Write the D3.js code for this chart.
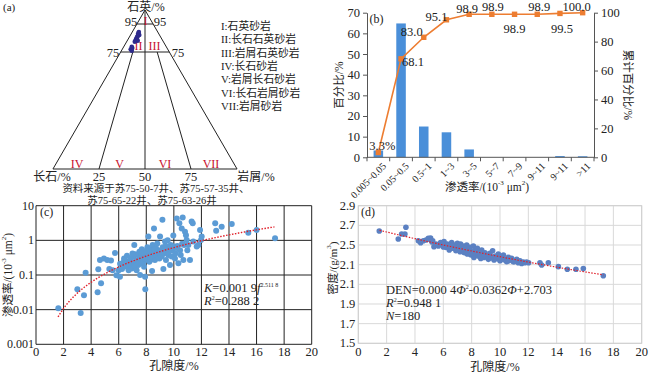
<!DOCTYPE html>
<html><head><meta charset="utf-8">
<script src="https://cdn.jsdelivr.net/npm/d3@7"></script>
<style>
body{margin:0;background:#fff}
svg text{font-family:"Liberation Serif","Times New Roman","Noto Sans CJK SC",serif;fill:#222}
</style></head><body>
<svg id="fig" width="650" height="376"></svg>
<script>
// ================= DATA =================
// (a) ternary sample compositions (%)
const quartz   = [88.4, 89.2, 87.1, 86.5, 85.9, 84.8, 84.1, 83.1, 82.4, 78.8, 77.8, 76.9, 75.9];
const feldspar = [ 8.7,  8.0,  9.0, 10.0, 10.6, 11.5, 12.2, 11.9, 13.7, 17.2, 17.5, 18.8, 18.8];
const rockFrag = [ 2.9,  2.8,  3.9,  3.5,  3.5,  3.7,  3.7,  5.0,  3.9,  4.0,  4.7,  4.3,  5.3];
const classLegend = ["I:石英砂岩","II:长石石英砂岩","III:岩屑石英砂岩","IV:长石砂岩","V:岩屑长石砂岩","VI:长石岩屑砂岩","VII:岩屑砂岩"];
const regionNames = ["I","II","III","IV","V","VI","VII"];
const sourceNote = ["资料来源于苏75-50-7井、苏75-57-35井、","苏75-65-22井、苏75-63-26井"];

// (b) permeability distribution
const permCats = ["0.005~0.05","0.05~0.5","0.5~1","1~3","3~5","5~7","7~9","9~11","9~11",">11"];
const permPct  = [3.3, 64.8, 14.9, 12.1, 3.8, 0, 0, 0, 0.6, 0.5];
const permCum  = [3.3, 68.1, 83.0, 95.1, 98.9, 98.9, 98.9, 98.9, 99.5, 100.0];
const cumLabels = ["3.3%","68.1","83.0","95.1","98.9","98.9","98.9","98.9","99.5","100.0"];
const pctTicks = [0,10,20,30,40,50,60,70];
const cumTicks = [0,20,40,60,80,100];

// (c) porosity vs permeability
const phiC = [1.62,3.0,3.24,3.48,3.6,4.47,4.52,4.72,4.64,4.93,5.17,5.44,5.32,5.56,5.73,5.83,6.09,6.0,6.24,6.29,
  6.46,6.39,6.58,6.7,6.72,6.82,6.87,6.94,7.06,7.11,7.13,7.18,7.3,7.35,7.42,7.42,7.5,7.55,7.55,7.62,
  7.67,7.74,7.79,7.84,7.84,7.91,7.93,7.98,8.03,8.08,8.15,8.15,8.22,8.27,8.32,8.39,8.42,8.46,8.51,8.56,
  8.59,8.63,8.71,8.75,8.8,8.88,8.95,9.0,9.04,9.12,9.17,9.19,9.24,9.29,9.36,9.41,9.43,9.48,9.55,9.6,
  9.67,9.72,9.77,9.84,9.92,9.96,10.01,10.08,10.13,10.21,10.25,10.33,10.4,10.45,10.5,10.57,10.64,10.69,10.74,10.81,
  10.88,10.93,10.98,11.05,11.17,11.29,11.37,11.41,11.66,11.78,11.9,11.97,12.02,13.0,13.07,13.47,14.2,15.4,16.0,17.34,
  6.1,6.6,6.9,7.2,7.7,8.0,8.3,8.6,8.9,9.3,9.8,10.2,10.6,7.0,7.9,8.7,9.6,6.4];
const kC = [0.011,0.039,0.008,0.026,0.117,0.032,0.146,0.058,0.27,0.30,0.27,0.26,0.148,0.138,0.43,0.098,0.089,0.138,0.15,0.22,
  0.195,0.30,0.174,0.24,0.138,0.27,0.20,0.155,0.34,0.23,0.74,0.174,0.138,0.27,0.38,0.195,0.47,0.30,0.10,0.22,
  0.55,0.34,0.24,0.42,0.174,0.089,0.039,0.28,0.47,0.63,0.34,1.29,0.24,0.42,0.55,0.28,0.13,0.74,0.35,2.2,
  0.47,0.27,0.59,0.38,0.81,0.44,0.30,1.29,0.52,0.34,3.9,0.63,0.15,0.42,0.93,0.69,0.27,0.47,1.0,0.38,
  0.55,0.195,0.74,0.34,0.50,1.38,0.66,0.30,0.42,4.3,0.69,0.22,3.1,0.52,0.38,2.2,4.6,0.27,0.74,1.78,
  1.41,1.02,0.52,0.74,0.27,3.5,3.1,0.93,0.66,0.74,2.0,1.02,1.29,3.1,1.9,2.45,2.95,1.66,2.0,1.15,
  0.21,0.36,0.31,0.40,0.45,0.50,0.33,0.56,0.48,0.57,0.62,0.60,0.80,0.42,0.29,0.44,0.46,0.26];
const permAxisTicks = [0.001,0.01,0.1,1,10];
const permAxisLabels = ["0.001","0.01","0.1","1","10"];
const phiTicks = [0,2,4,6,8,10,12,14,16,18,20];

// (d) porosity vs density
const phiD = [1.48,2.82,3.06,3.29,3.36,4.24,4.4,4.59,4.78,4.94,5.1,5.25,5.34,5.48,5.65,5.81,5.95,6.05,6.19,6.28,
  6.42,6.52,6.59,6.71,6.82,6.89,6.99,7.06,7.18,7.22,7.32,7.41,7.48,7.55,7.65,7.69,7.79,7.88,7.95,8.02,
  8.12,8.16,8.24,8.31,8.4,8.47,8.54,8.64,8.71,8.78,8.87,8.94,9.06,9.18,9.29,9.41,9.48,9.58,9.65,9.76,
  9.88,10.0,10.12,10.24,10.35,10.47,10.59,10.71,10.82,10.94,11.06,11.18,11.29,11.41,11.53,11.65,11.76,11.88,12.02,12.82,
  12.94,13.41,14.12,14.75,15.36,15.88,17.29,
  5.0,5.2,6.3,6.7,7.0,7.6,7.9,8.3,8.6,9.0,9.4,9.9,10.3,10.6,11.0,6.0,7.3,8.1,8.9,9.7];
const denD = [2.642,2.561,2.612,2.612,2.68,2.544,2.524,2.544,2.551,2.568,2.571,2.544,2.483,2.51,2.49,2.524,2.5,2.534,2.476,2.51,
  2.449,2.49,2.524,2.466,2.5,2.442,2.517,2.476,2.432,2.51,2.456,2.49,2.422,2.466,2.5,2.408,2.449,2.476,2.398,2.432,
  2.49,2.374,2.449,2.415,2.466,2.388,2.432,2.364,2.449,2.408,2.374,2.422,2.388,2.354,2.415,2.374,2.442,2.347,2.388,2.364,
  2.408,2.34,2.374,2.398,2.354,2.33,2.374,2.347,2.364,2.33,2.34,2.354,2.32,2.34,2.313,2.327,2.32,2.327,2.32,2.32,
  2.296,2.32,2.28,2.253,2.253,2.26,2.188,
  2.56,2.53,2.50,2.47,2.46,2.44,2.43,2.42,2.40,2.39,2.37,2.36,2.35,2.34,2.33,2.48,2.45,2.41,2.40,2.37];
const denTicks = [1.5,1.7,1.9,2.1,2.3,2.5,2.7,2.9];
const denTickLabels = ["1.5","1.7","1.9","2.1","2.1","2.5","2.7","2.9"];

// fitted equations shown on the figure
const fitC = {a:0.0019, b:2.5118, from:1.6, to:17.3};
const fitD = {a:0.0004, b:-0.0362, c:2.703, from:1.5, to:17.3};

// ================= DRAW =================
const svg = d3.select("#fig");
const red = "#c8102e";

// ---------- (a) ternary ----------
(function(){
  const g = svg.append("g");
  const cx = 145, apexY = 10, k = 0.579;
  const qScale = d3.scaleLinear().domain([0,75,95,100]).range([169,52,24,apexY]);
  const pos = (q,f,r) => {
    const y = qScale(q);
    const ratio = (f + r) === 0 ? 0.5 : r/(f+r);
    return [cx + (y - apexY)*k*(2*ratio - 1), y];
  };
  const line = d3.line();
  const st = s => s.attr("fill","none").attr("stroke","#222").attr("stroke-width",1);
  g.append("path").attr("d", line([pos(100,0,0), pos(0,100,0), pos(0,0,100)]) + "Z").call(st);
  [95,75].forEach(q => g.append("path").attr("d", line([pos(q,100-q,0), pos(q,0,100-q)])).call(st));
  g.append("path").attr("d", line([pos(100,0,0), pos(0,50,50)])).call(st);
  [0.25,0.75].forEach(r => g.append("path").attr("d", line([pos(75,25*(1-r),25*r), pos(0,100*(1-r),100*r)])).call(st));

  const t = (x,y,s,opt={}) => g.append("text").attr("x",x).attr("y",y).attr("text-anchor",opt.anchor||"middle")
      .attr("dominant-baseline","central").style("font-size",(opt.size||11)+"px").style("fill",opt.fill||"#222").text(s);
  t(146,6.5,"石英/%",{size:12});
  t(131,22,"95",{size:12.5}); t(160,22,"95",{size:12.5});
  t(113,52.5,"75",{size:12.5}); t(178,52.5,"75",{size:12.5});
  const regPos = [[145.5,21],[138.5,46],[154.5,46],[77,164],[119.5,164],[165,164],[211,164]];
  regionNames.forEach((n,i)=> t(regPos[i][0],regPos[i][1],n,{fill:red,size:12}));
  t(52,176.5,"长石/%",{size:12});
  [25,50,75].forEach(v => t(pos(0,100-v,v)[0],176.5,String(v),{size:12.5}));
  t(256,176.5,"岩屑/%",{size:12});
  classLegend.forEach((s,i)=> t(221,26+i*13.33,s,{anchor:"start",size:10.8}));
  t(156,188.5,sourceNote[0],{size:10.5});
  t(152,200,sourceNote[1],{size:10.5});
  t(3,7,"(a)",{anchor:"start",size:11});
  g.selectAll("circle.s").data(quartz.map((q,i)=>pos(q,feldspar[i],rockFrag[i]))).join("circle")
    .attr("cx",d=>d[0]).attr("cy",d=>d[1]).attr("r",2.3).attr("fill","#2e2a8c");
})();

// ---------- (b) bar + cumulative ----------
(function(){
  const g = svg.append("g");
  const x0 = 367, x1 = 594, yTop = 12.7, yBot = 157.3;
  const x = d3.scaleBand().domain(d3.range(permCats.length)).range([x0,x1]).paddingInner(0.58).paddingOuter(0.29);
  const yL = d3.scaleLinear().domain([0,70]).range([yBot,yTop]);
  const yR = d3.scaleLinear().domain([0,100]).range([yBot,yTop]);
  g.selectAll("rect").data(permPct).join("rect")
    .attr("x",(d,i)=>x(i)).attr("width",x.bandwidth())
    .attr("y",d=>yL(d)).attr("height",d=>yBot-yL(d)).attr("fill","#4a8fd9");
  const axL = g.append("g").attr("transform",`translate(${x0},0)`).call(d3.axisLeft(yL).tickValues(pctTicks).tickSize(4).tickSizeOuter(0));
  const axR = g.append("g").attr("transform",`translate(${x1},0)`).call(d3.axisRight(yR).tickValues(cumTicks).tickSize(4).tickSizeOuter(0));
  [axL,axR].forEach(a=>{a.selectAll("path,line").attr("stroke","#555");a.selectAll("text").style("font-size","12.5px").style("font-family",'"Liberation Serif",serif').attr("fill","#222");});
  g.append("line").attr("x1",x0).attr("x2",x1).attr("y1",yBot).attr("y2",yBot).attr("stroke","#555");
  d3.range(permCats.length+1).forEach(i=>{
    const xx = x0 + i*x.step();
    g.append("line").attr("x1",xx).attr("x2",xx).attr("y1",yBot).attr("y2",yBot+4).attr("stroke","#555");
  });
  permCats.forEach((c,i)=>{
    const cxp = x(i)+x.bandwidth()/2 + 6;
    g.append("text").attr("transform",`translate(${cxp},${yBot+7}) rotate(-45)`).attr("text-anchor","end")
      .attr("dominant-baseline","central").style("font-size","10px").text(c);
  });
  const pts = permCum.map((v,i)=>[x(i)+x.bandwidth()/2, yR(v)]);
  g.append("path").attr("d",d3.line()(pts)).attr("fill","none").attr("stroke","#ed7d31").attr("stroke-width",1.6);
  g.selectAll("rect.m").data(pts).join("rect").attr("class","m")
    .attr("x",d=>d[0]-2.7).attr("y",d=>d[1]-2.7).attr("width",5.4).attr("height",5.4).attr("fill","#ed7d31");
  const offs = [[4,-7],[12,3],[-12,-5],[-10,-3],[-2,-5],[1,-7],[0,15],[2,-7.5],[2,16],[-6,-6]];
  pts.forEach((p,i)=> g.append("text").attr("x",p[0]+offs[i][0]).attr("y",p[1]+offs[i][1])
    .attr("text-anchor","middle").attr("dominant-baseline","central").style("font-size","12.5px").text(cumLabels[i]));
  g.append("text").attr("x",376.5).attr("y",18.5).attr("text-anchor","middle").attr("dominant-baseline","central").style("font-size","12px").text("(b)");
  g.append("text").attr("transform","translate(339,85) rotate(-90)").attr("text-anchor","middle").attr("dominant-baseline","central").style("font-size","11.5px").text("百分比/%");
  g.append("text").attr("transform","translate(628,85) rotate(90)").attr("text-anchor","middle").attr("dominant-baseline","central").style("font-size","11.5px").text("累计百分比/%");
  const tt = g.append("text").attr("x",487).attr("y",187).attr("text-anchor","middle").attr("dominant-baseline","central").style("font-size","11.5px");
  tt.append("tspan").text("渗透率/(10");
  tt.append("tspan").attr("baseline-shift","super").style("font-size","7px").text("-3");
  tt.append("tspan").text(" μm");
  tt.append("tspan").attr("baseline-shift","super").style("font-size","7px").text("2");
  tt.append("tspan").text(")");
})();

// ---------- (c) porosity - permeability ----------
(function(){
  const g = svg.append("g");
  const X0 = 36, X1 = 311.7, Y0 = 205.7, Y1 = 344.3;
  const x = d3.scaleLinear().domain([0,20]).range([X0,X1]);
  const y = d3.scaleLog().domain([0.001,10]).range([Y1,Y0]);
  phiTicks.forEach(v=> g.append("line").attr("x1",x(v)).attr("x2",x(v)).attr("y1",Y0).attr("y2",Y1).attr("stroke","#222").attr("stroke-width",1));
  permAxisTicks.forEach(v=> g.append("line").attr("x1",X0).attr("x2",X1).attr("y1",y(v)).attr("y2",y(v)).attr("stroke","#222").attr("stroke-width",1));
  g.selectAll("circle").data(phiC.map((p,i)=>[p,kC[i]])).join("circle")
    .attr("cx",d=>x(d[0])).attr("cy",d=>y(d[1])).attr("r",3).attr("fill","#5b9bd5");
  const fit = d3.range(fitC.from, fitC.to+0.001, 0.1).map(p=>[x(p), y(fitC.a*Math.pow(p,fitC.b))]);
  g.append("path").attr("d",d3.line()(fit)).attr("fill","none").attr("stroke","#e0202a").attr("stroke-width",1.4).attr("stroke-dasharray","1.5,1.5");
  phiTicks.forEach(v=> g.append("text").attr("x",x(v)).attr("y",352).attr("text-anchor","middle").attr("dominant-baseline","central").style("font-size","12.5px").text(v));
  permAxisTicks.forEach((v,i)=> g.append("text").attr("x",X0-2).attr("y",y(v)).attr("text-anchor","end").attr("dominant-baseline","central").style("font-size","12px").text(permAxisLabels[i]));
  g.append("text").attr("x",174).attr("y",366).attr("text-anchor","middle").attr("dominant-baseline","central").style("font-size","12px").text("孔隙度/%");
  const yt = g.append("text").attr("transform","translate(8,275) rotate(-90)").attr("text-anchor","middle").attr("dominant-baseline","central").style("font-size","11.5px");
  yt.append("tspan").text("渗透率/(10");
  yt.append("tspan").attr("baseline-shift","super").style("font-size","7px").text("-3");
  yt.append("tspan").text(" μm");
  yt.append("tspan").attr("baseline-shift","super").style("font-size","7px").text("2");
  yt.append("tspan").text(")");
  g.append("text").attr("x",40).attr("y",212).attr("dominant-baseline","central").style("font-size","12px").text("(c)");
  const e1 = g.append("text").attr("x",204).attr("y",288).attr("dominant-baseline","central").style("font-size","12.5px");
  e1.append("tspan").style("font-style","italic").text("K");
  e1.append("tspan").text("=0.001 9");
  e1.append("tspan").style("font-style","italic").text("f");
  e1.append("tspan").attr("baseline-shift","super").style("font-size","6px").text("2.511 8");
  const e2 = g.append("text").attr("x",204).attr("y",301).attr("dominant-baseline","central").style("font-size","12.5px");
  e2.append("tspan").style("font-style","italic").text("R");
  e2.append("tspan").attr("baseline-shift","super").style("font-size","6px").text("2");
  e2.append("tspan").text("=0.288 2");
})();

// ---------- (d) porosity - density ----------
(function(){
  const g = svg.append("g");
  const X0 = 358.3, X1 = 641.7, Y0 = 205.7, Y1 = 343.3;
  const x = d3.scaleLinear().domain([0,20]).range([X0,X1]);
  const y = d3.scaleLinear().domain([1.5,2.9]).range([Y1,Y0]);
  phiTicks.forEach(v=> g.append("line").attr("x1",x(v)).attr("x2",x(v)).attr("y1",Y0).attr("y2",Y1).attr("stroke","#d9d9d9"));
  denTicks.forEach(v=> g.append("line").attr("x1",X0).attr("x2",X1).attr("y1",y(v)).attr("y2",y(v)).attr("stroke","#d9d9d9"));
  g.append("rect").attr("x",X0).attr("y",Y0).attr("width",X1-X0).attr("height",Y1-Y0).attr("fill","none").attr("stroke","#cfcfcf");
  g.selectAll("circle").data(phiD.map((p,i)=>[p,denD[i]])).join("circle")
    .attr("cx",d=>x(d[0])).attr("cy",d=>y(d[1])).attr("r",2.8).attr("fill","#5b80c2");
  const fit = d3.range(fitD.from, fitD.to+0.001, 0.1).map(p=>[x(p), y(fitD.a*p*p + fitD.b*p + fitD.c)]);
  g.append("path").attr("d",d3.line()(fit)).attr("fill","none").attr("stroke","#e0202a").attr("stroke-width",1.2).attr("stroke-dasharray","1.5,1.5");
  phiTicks.forEach(v=> g.append("text").attr("x",x(v)).attr("y",351.5).attr("text-anchor","middle").attr("dominant-baseline","central").style("font-size","12.5px").text(v));
  denTicks.forEach((v,i)=> g.append("text").attr("x",X0-3).attr("y",y(v)).attr("text-anchor","end").attr("dominant-baseline","central").style("font-size","12.5px").text(denTickLabels[i]));
  g.append("text").attr("x",495).attr("y",367).attr("text-anchor","middle").attr("dominant-baseline","central").style("font-size","12px").text("孔隙度/%");
  const yt = g.append("text").attr("transform","translate(333,268) rotate(-90)").attr("text-anchor","middle").attr("dominant-baseline","central").style("font-size","11px");
  yt.append("tspan").text("密度/(g/m");
  yt.append("tspan").attr("baseline-shift","super").style("font-size","7px").text("3");
  yt.append("tspan").text(")");
  g.append("text").attr("x",361).attr("y",212).attr("dominant-baseline","central").style("font-size","12px").text("(d)");
  const e1 = g.append("text").attr("x",386).attr("y",290).attr("dominant-baseline","central").style("font-size","12.5px");
  e1.append("tspan").text("DEN=0.000 4");
  e1.append("tspan").style("font-style","italic").text("Φ");
  e1.append("tspan").attr("baseline-shift","super").style("font-size","6px").text("2");
  e1.append("tspan").text("-0.0362");
  e1.append("tspan").style("font-style","italic").text("Φ");
  e1.append("tspan").text("+2.703");
  const e2 = g.append("text").attr("x",386).attr("y",303).attr("dominant-baseline","central").style("font-size","12.5px");
  e2.append("tspan").style("font-style","italic").text("R");
  e2.append("tspan").attr("baseline-shift","super").style("font-size","6px").text("2");
  e2.append("tspan").text("=0.948 1");
  const e3 = g.append("text").attr("x",386).attr("y",316).attr("dominant-baseline","central").style("font-size","12.5px");
  e3.append("tspan").style("font-style","italic").text("N");
  e3.append("tspan").text("=180");
})();
</script>
</body></html>
